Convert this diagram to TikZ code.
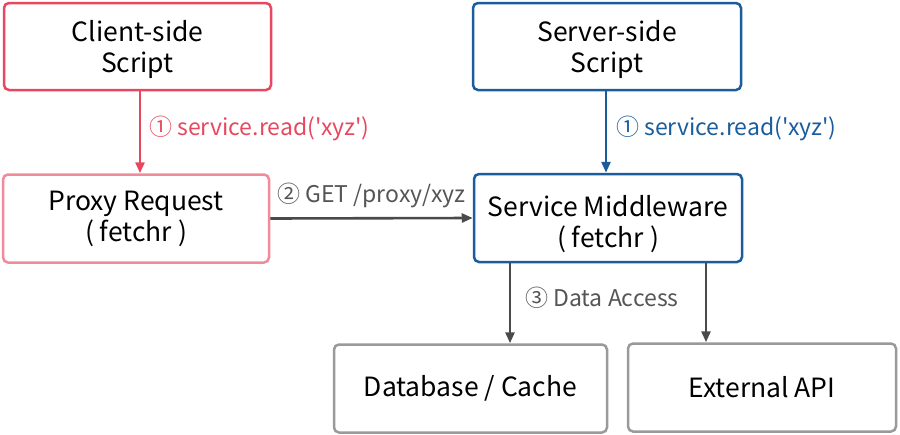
\documentclass[tikz,border=0pt]{standalone}
\usepackage{fontspec}
\setmainfont{Noto Sans CJK SC}[Ligatures=TeXOff]
\usetikzlibrary{arrows.meta}
\definecolor{cred}{HTML}{E8485F}
\definecolor{cpink}{HTML}{F08C99}
\definecolor{cblue}{HTML}{1A5C9C}
\definecolor{cgrey}{HTML}{9A9A9A}
\definecolor{carrow}{HTML}{4A4A4A}
\definecolor{clabel}{HTML}{555555}
\begin{document}
\begin{tikzpicture}[x=1pt,y=-1pt,
  box/.style={draw,line width=2.5pt,rounded corners=5pt,fill=white,inner sep=0pt},
  boxtext/.style={inner sep=0pt,align=center,font=\fontsize{26.5}{31}\selectfont},
  conn/.style={line width=2.6pt,-{Triangle[length=11pt,width=9pt]}},
  lbl/.style={font=\fontsize{23}{26}\selectfont,anchor=west,inner sep=0pt}]
\useasboundingbox (0,0) rectangle (900,434);
\node[box,draw=cred,minimum width=267pt,minimum height=87pt] (client) at (137.5,46.5) {};
\node[box,draw=cblue,minimum width=268pt,minimum height=87pt] (server) at (607,46.5) {};
\node[box,draw=cpink,minimum width=266pt,minimum height=88pt] (proxy) at (136,218.5) {};
\node[box,draw=cblue,minimum width=268pt,minimum height=88pt] (mw) at (608,218) {};
\node[box,draw=cgrey,minimum width=273pt,minimum height=88pt] (db) at (470.5,388.5) {};
\node[box,draw=cgrey,minimum width=268pt,minimum height=88pt] (api) at (762,387.5) {};
\node[boxtext] (clientT) at (137.5,49.5) {Client-side\\Script};
\node[boxtext] (serverT) at (607,49.5) {Server-side\\Script};
\node[boxtext] (proxyT) at (136,218.5) {Proxy Request\\( fetchr )};
\node[boxtext] (mwT) at (608,224) {Service Middleware\\( fetchr )};
\node[boxtext] (dbT) at (470.5,388.5) {Database / Cache};
\node[boxtext] (apiT) at (762,387.5) {External API};
\draw[conn,cred] (client.south -| 140,0) -- (proxy.north -| 140,0);
\draw[conn,cblue] (server.south -| 606,0) -- (mw.north -| 606,0);
\draw[conn,carrow] (proxy.east) -- (mw.west);
\draw[conn,carrow] (mw.south -| 510,0) -- (db.north -| 510,0);
\draw[conn,carrow] (mw.south -| 706,0) -- (api.north -| 706,0);
\node[lbl,text=cred] (l1) at (149,128) {① service.read('xyz')};
\node[lbl,text=cblue] (l2) at (616,128) {① service.read('xyz')};
\node[lbl,text=clabel] (l3) at (277,195) {② GET /proxy/xyz};
\node[lbl,text=clabel] (l4) at (525,298) {③ Data Access};
\end{tikzpicture}
\end{document}
